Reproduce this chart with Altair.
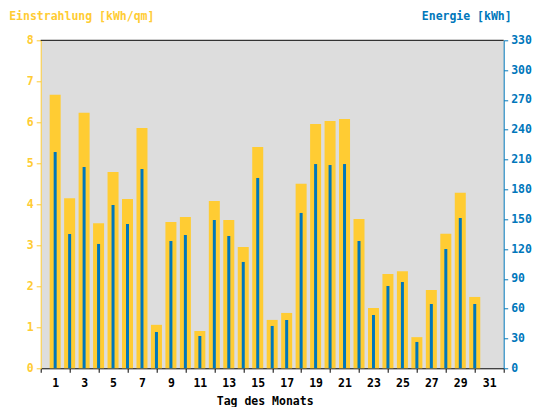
import altair as alt
import pandas as pd

days = list(range(1, 31))
einstrahlung = [6.67, 4.15, 6.23, 3.54, 4.79, 4.13, 5.86, 1.06, 3.57, 3.69,
                0.91, 4.08, 3.62, 2.96, 5.40, 1.18, 1.35, 4.50, 5.96, 6.03,
                6.08, 3.64, 1.47, 2.30, 2.37, 0.76, 1.91, 3.28, 4.28, 1.74]
energie = [217.6, 135.1, 202.5, 125.1, 164.3, 145.2, 200.5, 36.5, 128.1, 134.1,
           32.5, 149.2, 133.1, 107.0, 191.5, 42.6, 48.6, 156.3, 205.5, 204.5,
           205.5, 128.1, 53.6, 82.8, 86.8, 26.5, 64.7, 120.0, 151.2, 64.7]

x_ticks = list(range(0, 33))
left_ticks = list(range(0, 9))
right_ticks = list(range(0, 331, 30))

df = pd.DataFrame({"Tag": days, "Einstrahlung": einstrahlung, "Energie": energie})

YELLOW = "#FFCC33"
BLUE = "#0077BB"
FONT = "DejaVu Sans Mono"
FS = 11.5
W, H = 463, 328

x_axis = alt.Axis(
    values=x_ticks,
    labelExpr="datum.value % 2 == 1 ? datum.label : ''",
    tickOpacity={"condition": {"test": "datum.value % 2 == 0", "value": 1}, "value": 0},
    title="Tag des Monats",
    titleX=224,
    titleY=36.7,
    titleAlign="center",
    titleBaseline="alphabetic",
    titleColor="black",
    titleFont=FONT,
    titleFontSize=FS,
    titleFontWeight="bold",
    labelFont=FONT,
    labelFontSize=FS,
    labelFontWeight="bold",
    labelColor="black",
    labelPadding=5,
    labelFlush=False,
    labelOverlap=False,
    labelBound=False,
    domainColor="black",
    tickColor="black",
    tickSize=4,
    grid=False,
)
x_scale = alt.Scale(domain=[0, 32], nice=False, zero=False, padding=0)

yellow = alt.Chart(df).mark_bar(size=11, color=YELLOW).encode(
    x=alt.X("Tag:Q", scale=x_scale, axis=x_axis),
    y=alt.Y(
        "Einstrahlung:Q",
        scale=alt.Scale(domain=[0, 8], nice=False),
        axis=alt.Axis(
            orient="left",
            values=left_ticks,
            title="Einstrahlung [kWh/qm]",
            titleAngle=0,
            titleX=-32,
            titleY=-20.8,
            titleAlign="left",
            titleBaseline="alphabetic",
            titleColor=YELLOW,
            titleFont=FONT,
            titleFontSize=FS,
            titleFontWeight="bold",
            labelFont=FONT,
            labelFontSize=FS,
            labelFontWeight="bold",
            labelColor=YELLOW,
            labelPadding=3,
            labelFlush=False,
            labelOverlap=False,
            domainColor=YELLOW,
            tickColor=YELLOW,
            tickSize=4.5,
            grid=False,
        ),
    ),
)

blue = alt.Chart(df).mark_bar(size=3, color=BLUE).encode(
    x=alt.X("Tag:Q", scale=x_scale, axis=x_axis),
    y=alt.Y(
        "Energie:Q",
        scale=alt.Scale(domain=[0, 330], nice=False),
        axis=alt.Axis(
            orient="right",
            values=right_ticks,
            title="Energie [kWh]",
            titleAngle=0,
            titleX=7.5,
            titleY=-20.8,
            titleAlign="right",
            titleBaseline="alphabetic",
            titleColor=BLUE,
            titleFont=FONT,
            titleFontSize=FS,
            titleFontWeight="bold",
            labelFont=FONT,
            labelFontSize=FS,
            labelFontWeight="bold",
            labelColor=BLUE,
            labelPadding=3,
            labelFlush=False,
            labelOverlap=False,
            domainColor=BLUE,
            tickColor=BLUE,
            tickSize=4,
            grid=False,
        ),
    ),
)

top_line = alt.Chart(pd.DataFrame({"k": [0]})).mark_rule(color="black", strokeWidth=1).encode(
    x=alt.value(0), x2=alt.value(W), y=alt.value(0)
)

chart = (
    alt.layer(yellow, blue, top_line)
    .resolve_scale(y="independent")
    .properties(
        width=W,
        height=H,
        padding={"left": 32.7, "top": 32.3, "right": 32, "bottom": 39},
        autosize=alt.AutoSizeParams(type="none"),
        background="white",
    )
    .configure_view(fill="#DDDDDD", stroke="transparent")
    .configure_axis(labelOverlap=False)
)

chart.save("out.html", embed_options={"renderer": "svg", "actions": False})
